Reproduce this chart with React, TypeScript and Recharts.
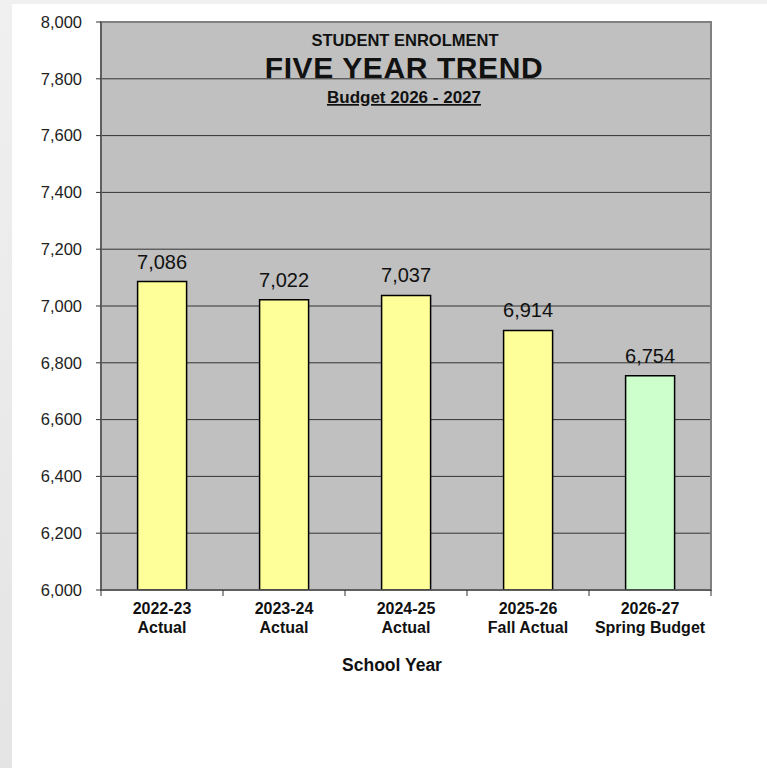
import React from "react";
import { BarChart, Bar, XAxis, YAxis, CartesianGrid, Cell, LabelList, ReferenceArea } from "recharts";

const schoolYears = ["2022-23", "2023-24", "2024-25", "2025-26", "2026-27"];
const yearNotes = ["Actual", "Actual", "Actual", "Fall Actual", "Spring Budget"];
const enrolment = [7086, 7022, 7037, 6914, 6754];
const yTicks = [6000, 6200, 6400, 6600, 6800, 7000, 7200, 7400, 7600, 7800, 8000];
const barColors = ["#ffff99", "#ffff99", "#ffff99", "#ffff99", "#ccffcc"];

const data = schoolYears.map((y, i) => ({ year: y, note: yearNotes[i], value: enrolment[i] }));

const FONT = "'Liberation Sans', Arial, Helvetica, sans-serif";

const CatTick = (props: any) => {
  const { x, y, payload, index } = props;
  const half = payload && payload.offset ? payload.offset : 61;
  const isLast = index === data.length - 1;
  return (
    <g>
      <line x1={x - half} x2={x - half} y1={y} y2={y + 6} stroke="#333" strokeWidth={1} />
      {isLast && <line x1={x + half} x2={x + half} y1={y} y2={y + 6} stroke="#333" strokeWidth={1} />}
      <text x={x} y={y + 24} textAnchor="middle" fontSize={16} fontWeight="bold" fill="#111" fontFamily={FONT}>
        {data[index]?.year}
      </text>
      <text x={x} y={y + 43} textAnchor="middle" fontSize={16} fontWeight="bold" fill="#111" fontFamily={FONT}>
        {data[index]?.note}
      </text>
    </g>
  );
};

export default function App() {
  return (
    <div style={{ position: "absolute", left: 0, top: 0, width: 767, height: 768, background: "#fff", fontFamily: FONT, overflow: "hidden" }}>
      <div style={{ position: "absolute", left: 0, top: 0, width: 767, height: 4, background: "#f0f0f0" }} />
      <div style={{ position: "absolute", left: 0, top: 0, width: 12, height: 768, background: "linear-gradient(#f0f0f0, #e4e4e4)" }} />
      <div style={{ position: "absolute", left: 0, top: 0 }}>
        <BarChart
          width={767}
          height={768}
          data={data}
          margin={{ top: 22, right: 56, bottom: 118, left: 10 }}
          barCategoryGap="30%"
        >
          <CartesianGrid vertical={false} stroke="#333" fill="#c0c0c0" fillOpacity={1} />
          <XAxis
            dataKey="year"
            type="category"
            height={60}
            tickSize={0}
            tickMargin={0}
            tickLine={false}
            axisLine={{ stroke: "#555", strokeWidth: 1.5 }}
            interval={0}
            tick={<CatTick />}
          />
          <YAxis
            type="number"
            domain={[6000, 8000]}
            ticks={yTicks}
            interval={0}
            allowDataOverflow
            width={91}
            tickSize={5}
            tickMargin={14}
            tickLine={{ stroke: "#333" }}
            axisLine={{ stroke: "#555", strokeWidth: 1.5 }}
            tickFormatter={(v: number) => v.toLocaleString("en-US")}
            tick={{ fontSize: 16.5, fill: "#222", fontFamily: FONT }}
          />
          <ReferenceArea y1={6000} y2={8000} fill="none" stroke="#808080" strokeWidth={2} ifOverflow="visible" />
          <Bar dataKey="value" isAnimationActive={false} stroke="#000" strokeWidth={1.5}>
            {data.map((d, i) => (
              <Cell key={d.year} fill={barColors[i]} />
            ))}
            <LabelList
              dataKey="value"
              position="top"
              offset={13}
              formatter={(v: any) => Number(v).toLocaleString("en-US")}
              style={{ fontSize: 20, fill: "#111", fontFamily: FONT }}
            />
          </Bar>
        </BarChart>
      </div>
      <svg width={767} height={768} style={{ position: "absolute", left: 0, top: 0, pointerEvents: "none" }}>
        <text x={405} y={46} textAnchor="middle" fontSize={16.5} fontWeight="bold" fill="#111" fontFamily={FONT}>
          STUDENT ENROLMENT
        </text>
        <text x={404} y={78} textAnchor="middle" fontSize={30} fontWeight="bold" fill="#111" fontFamily={FONT} letterSpacing={0.6}>
          FIVE YEAR TREND
        </text>
        <text x={404} y={103} textAnchor="middle" fontSize={17} fontWeight="bold" fill="#111" fontFamily={FONT} textDecoration="underline">
          Budget 2026 - 2027
        </text>
        <text x={392} y={671} textAnchor="middle" fontSize={17.5} fontWeight="bold" fill="#111" fontFamily={FONT}>
          School Year
        </text>
      </svg>
    </div>
  );
}
